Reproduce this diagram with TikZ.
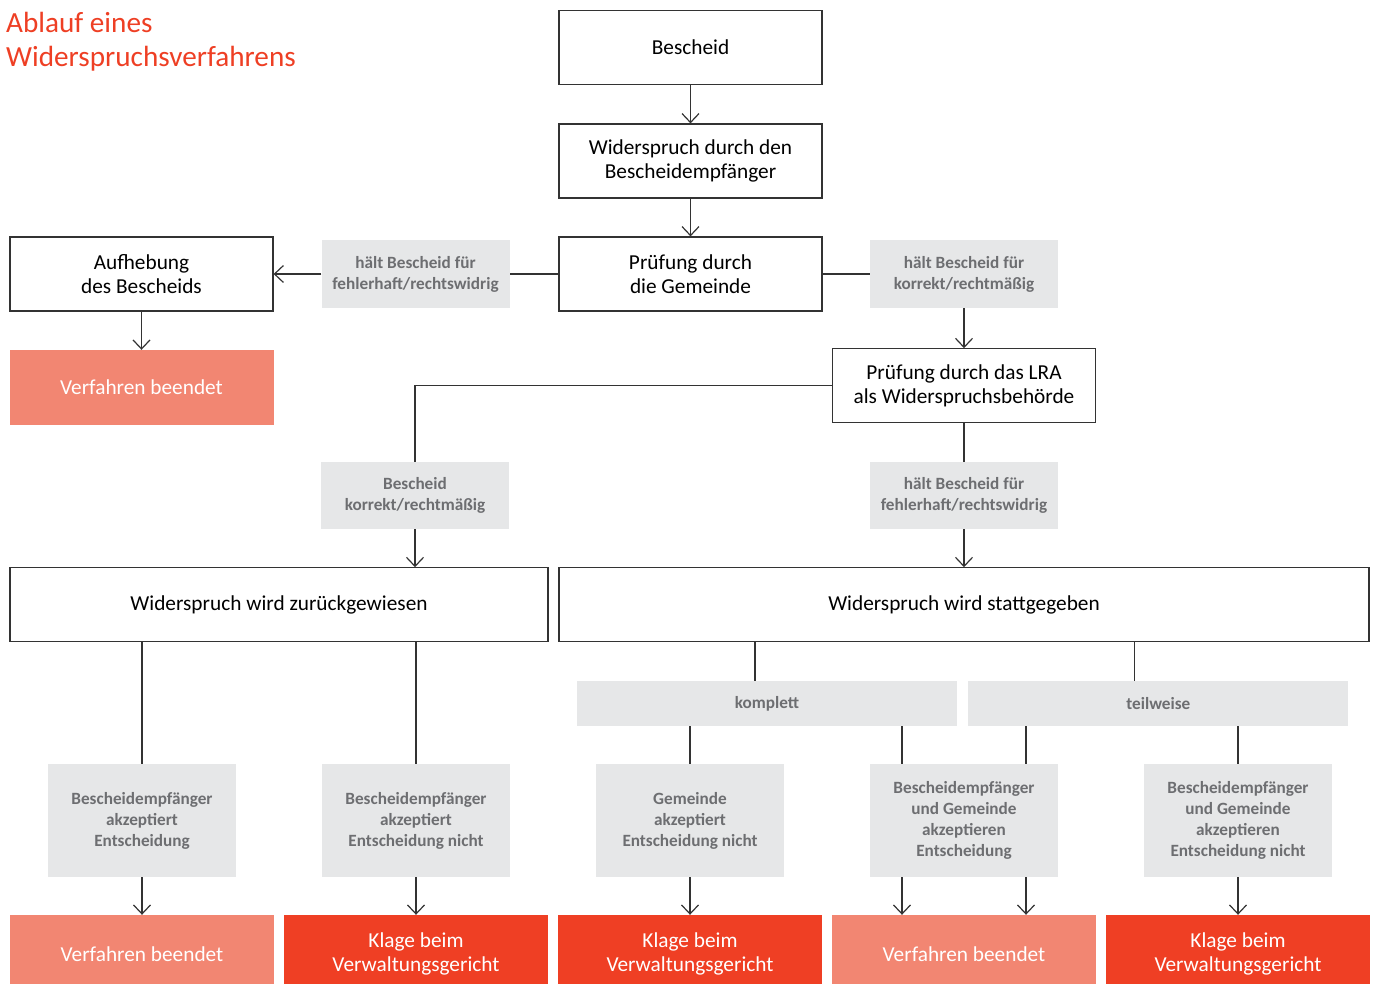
\documentclass[tikz,border=0pt]{standalone}
\usepackage{fontspec}
\setmainfont{Carlito}
\usetikzlibrary{positioning, arrows.meta}

\definecolor{titelrot}{HTML}{EE3F24}
\definecolor{klagerot}{HTML}{EF3F24}
\definecolor{lachs}{HTML}{F28672}
\definecolor{hinweisgrau}{HTML}{E6E7E8}
\definecolor{hinweistext}{HTML}{6D6E71}
\definecolor{liniengrau}{HTML}{333333}

\begin{document}
\begin{tikzpicture}[
  x=1pt, y=-1pt,
  font=\fontsize{21.3}{24}\selectfont,
  box/.style={draw=liniengrau, line width=1.2pt, minimum width=263pt,
    minimum height=74pt, align=center, inner sep=0pt},
  hinweis/.style={fill=hinweisgrau, text=hinweistext, minimum width=188pt,
    minimum height=68pt, align=center, inner sep=0pt,
    font=\fontsize{17.2}{21}\selectfont\bfseries},
  ende/.style={fill=lachs, text=white, minimum width=264pt,
    minimum height=75pt, align=center, inner sep=0pt},
  klage/.style={fill=klagerot, text=white, minimum width=264pt,
    minimum height=78pt, align=center, inner sep=0pt},
  arrow/.style={-{Straight Barb[length=9pt,width=17pt]}, liniengrau, line width=1.2pt},
  link/.style={liniengrau, line width=1.2pt},
]
  \useasboundingbox (0,0) rectangle (1376,984);

  \node[anchor=north west, inner sep=0pt, align=left, text=titelrot,
    font=\fontsize{29.2}{34}\selectfont] (titel) at (6,12)
    {Ablauf eines\\Widerspruchsverfahrens};

  % obere Kette
  \node[box] (bescheid) at (690.5,47.5) {Bescheid};
  \node[box, below=38.3pt of bescheid] (widerspruch) {Widerspruch durch den\\Bescheidempfänger};
  \node[box, below=37.8pt of widerspruch] (pruefung) {Prüfung durch\\die Gemeinde};
  \node[hinweis, left=48.7pt of pruefung] (lhinweis) {hält Bescheid für\\fehlerhaft/rechtswidrig};
  \node[box, left=47.7pt of lhinweis] (aufhebung) {Aufhebung\\des Bescheids};
  \node[ende, below=38.2pt of aufhebung] (ende1) {Verfahren beendet};
  \node[hinweis, right=47.2pt of pruefung] (rhinweis) {hält Bescheid für\\korrekt/rechtmäßig};
  \node[box, below=40pt of rhinweis] (lra) {Prüfung durch das LRA\\als Widerspruchsbehörde};

  % Entscheidung LRA
  \node[hinweis, minimum height=67pt] (khinweis) at (415,495.5) {Bescheid\\korrekt/rechtmäßig};
  \node[hinweis, minimum height=67pt, below=38.2pt of lra] (fhinweis) {hält Bescheid für\\fehlerhaft/rechtswidrig};
  \node[box, minimum width=810pt, below=38.2pt of fhinweis] (statt) {Widerspruch wird stattgegeben};
  \node[box, minimum width=538pt, left=9.8pt of statt] (zurueck) {Widerspruch wird zurückgewiesen};

  \node[hinweis, minimum width=380pt, minimum height=45pt] (komplett) at (767,703.5) {komplett};
  \node[hinweis, minimum width=380pt, minimum height=45pt, right=11pt of komplett] (teilweise) {teilweise};

  % untere Hinweise
  \node[hinweis, minimum height=113pt] (h1) at (142,820.5) {Bescheidempfänger\\akzeptiert\\Entscheidung};
  \node[hinweis, minimum height=113pt] (h2) at (416,820.5) {Bescheidempfänger\\akzeptiert\\Entscheidung nicht};
  \node[hinweis, minimum height=113pt] (h3) at (690,820.5) {Gemeinde\\akzeptiert\\Entscheidung nicht};
  \node[hinweis, minimum height=113pt] (h4) at (964,820.5) {Bescheidempfänger\\und Gemeinde\\akzeptieren\\Entscheidung};
  \node[hinweis, minimum height=113pt] (h5) at (1238,820.5) {Bescheidempfänger\\und Gemeinde\\akzeptieren\\Entscheidung nicht};

  % Ergebnisse
  \node[ende, minimum height=78pt] (e1) at (142,954) {Verfahren beendet};
  \node[klage] (e2) at (416,954) {Klage beim\\Verwaltungsgericht};
  \node[klage] (e3) at (690,954) {Klage beim\\Verwaltungsgericht};
  \node[ende, minimum height=78pt] (e4) at (964,954) {Verfahren beendet};
  \node[klage] (e5) at (1238,954) {Klage beim\\Verwaltungsgericht};

  \coordinate (kt) at ([xshift=-12pt]komplett.north);
  \coordinate (tt) at ([xshift=-24pt]teilweise.north);
  \coordinate (kb) at ([xshift=-62pt]h4.north);
  \coordinate (tb) at ([xshift=62pt]h4.north);

  \draw[arrow] (bescheid) -- (widerspruch);
  \draw[arrow] (widerspruch) -- (pruefung);
  \draw[link] (pruefung) -- (lhinweis);
  \draw[arrow] (lhinweis) -- (aufhebung);
  \draw[arrow] (aufhebung) -- (ende1);
  \draw[link] (pruefung) -- (rhinweis);
  \draw[arrow] (rhinweis) -- (lra);
  \draw[link] (lra.west) -| (khinweis.north);
  \draw[arrow] (khinweis) -- (khinweis |- zurueck.north);
  \draw[link] (lra) -- (fhinweis);
  \draw[arrow] (fhinweis) -- (statt);
  \draw[link] (h1 |- zurueck.south) -- (h1);
  \draw[link] (h2 |- zurueck.south) -- (h2);
  \draw[link] (kt |- statt.south) -- (kt);
  \draw[link] (tt |- statt.south) -- (tt);
  \draw[link] (h3 |- komplett.south) -- (h3);
  \draw[link] (kb |- komplett.south) -- (kb);
  \draw[link] (tb |- teilweise.south) -- (tb);
  \draw[link] (h5 |- teilweise.south) -- (h5);
  \draw[arrow] (h1) -- (e1);
  \draw[arrow] (h2) -- (e2);
  \draw[arrow] (h3) -- (e3);
  \draw[arrow] (kb |- h4.south) -- (kb |- e4.north);
  \draw[arrow] (tb |- h4.south) -- (tb |- e4.north);
  \draw[arrow] (h5) -- (e5);
\end{tikzpicture}
\end{document}
